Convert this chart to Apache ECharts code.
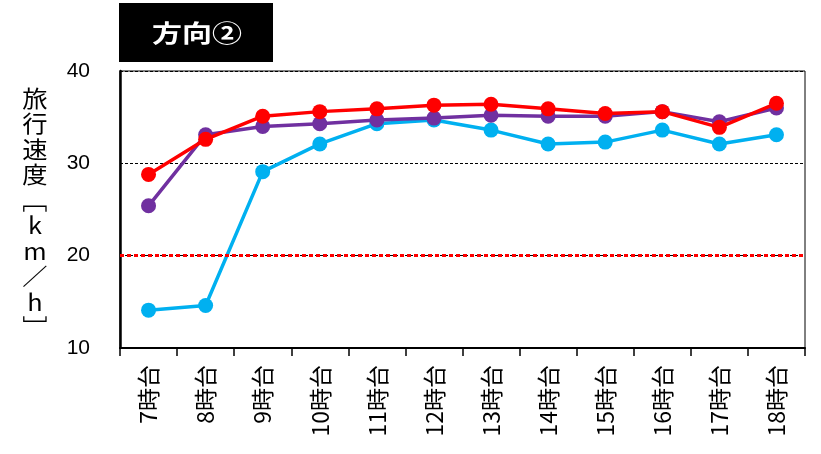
<!DOCTYPE html>
<html><head><meta charset="utf-8">
<script src="https://cdn.jsdelivr.net/npm/echarts@6/dist/echarts.min.js"></script>
<style>html,body{margin:0;padding:0;background:#fff}#c{width:821px;height:454px}</style>
</head><body><div id="c"></div>
<script>
var categories = ['7時台','8時台','9時台','10時台','11時台','12時台','13時台','14時台','15時台','16時台','17時台','18時台'];
var blueValues = [14.1, 14.6, 29.1, 32.1, 34.3, 34.7, 33.6, 32.1, 32.3, 33.6, 32.1, 33.1];
var purpleValues = [25.4, 33.1, 34.0, 34.3, 34.7, 34.9, 35.2, 35.1, 35.1, 35.6, 34.5, 36.0];
var redValues = [28.8, 32.6, 35.1, 35.6, 35.9, 36.3, 36.4, 35.9, 35.4, 35.6, 33.9, 36.5];
var yTicks = {min: 10, max: 40, interval: 10};
var refValue = 20;
var titleText = '方向②';
var yName = ['旅','行','速','度','﹇','k','m','／','h','﹈'];

var chart = echarts.init(document.getElementById('c'));
function mk(name, data, color, z) {
  return {
    name: name, type: 'line', data: data, z: z,
    symbol: 'circle', symbolSize: 15,
    itemStyle: {color: color},
    lineStyle: {color: color, width: 3.5},
    animation: false
  };
}
var redSeries = mk('red', redValues, '#FF0000', 5);
redSeries.markLine = {
  silent: true, symbol: 'none', label: {show: false},
  lineStyle: {color: '#FF0000', type: [4, 3], width: 3},
  data: [{yAxis: refValue}], animation: false
};
chart.setOption({
  animation: false,
  grid: {left: 120, right: 16, top: 71, bottom: 106, show: true, borderColor: '#000', borderWidth: 1, backgroundColor: 'transparent'},
  xAxis: {
    type: 'category', data: categories, boundaryGap: true,
    axisLine: {lineStyle: {color: '#000', width: 2}},
    axisTick: {show: true, length: 8, lineStyle: {color: '#000', width: 1.5}},
    axisLabel: {rotate: 90, margin: 17, color: '#000', fontSize: 23, fontFamily: 'Noto Sans CJK JP'},
    splitLine: {show: false}
  },
  yAxis: {
    type: 'value', min: yTicks.min, max: yTicks.max, interval: yTicks.interval,
    axisLine: {show: true, lineStyle: {color: '#000', width: 2.5}},
    axisTick: {show: false},
    axisLabel: {color: '#000', fontSize: 21, margin: 30, fontFamily: 'Liberation Sans'},
    splitLine: {show: true, lineStyle: {color: '#000', type: [3, 2], width: 1}}
  },
  series: [
    mk('blue', blueValues, '#00B0F0', 3),
    mk('purple', purpleValues, '#7030A0', 4),
    redSeries
  ],
  graphic: [
    {type: 'rect', left: 119, top: 3, shape: {width: 154, height: 59}, style: {fill: '#000'}},
    {type: 'text', x: 197, y: 33, scaleX: 1.25, style: {text: titleText, fill: '#fff', font: 'bold 24px "Noto Sans CJK JP"', textAlign: 'center', textVerticalAlign: 'middle'}},
    {type: 'text', x: 35, y: 213, scaleX: 1.1, style: {text: yName.join('\n'), fill: '#000', font: '23px "Noto Sans CJK JP"', lineHeight: 25.5, textAlign: 'center', textVerticalAlign: 'middle'}}
  ]
});
</script></body></html>
